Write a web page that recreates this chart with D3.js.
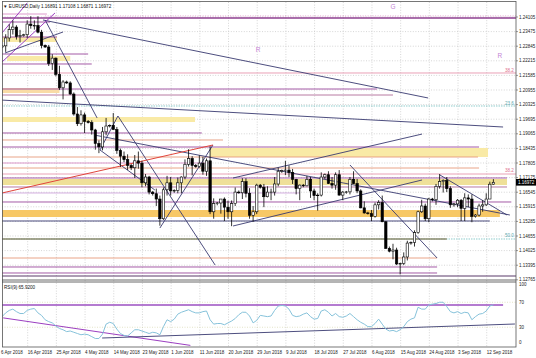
<!DOCTYPE html>
<html>
<head>
<meta charset="utf-8">
<script src="https://cdn.jsdelivr.net/npm/d3@7/dist/d3.min.js"></script>
<style>
  body { margin: 0; background: #fff; }
  svg { display: block; font-family: "Liberation Sans", Arial, sans-serif; }
</style>
</head>
<body>
<svg width="536" height="358"></svg>
<script>
var svg = d3.select('svg');

// daily bars (broker has short sunday bars)
var dates = [
  "2018-04-06","2018-04-08","2018-04-09","2018-04-10","2018-04-11","2018-04-12","2018-04-13",
  "2018-04-15","2018-04-16","2018-04-17","2018-04-18","2018-04-19","2018-04-20",
  "2018-04-22","2018-04-23","2018-04-24","2018-04-25","2018-04-26","2018-04-27",
  "2018-04-29","2018-04-30","2018-05-01","2018-05-02","2018-05-03","2018-05-04",
  "2018-05-06","2018-05-07","2018-05-08","2018-05-09","2018-05-10","2018-05-11",
  "2018-05-13","2018-05-14","2018-05-15","2018-05-16","2018-05-17","2018-05-18",
  "2018-05-20","2018-05-21","2018-05-22","2018-05-23","2018-05-24","2018-05-25",
  "2018-05-27","2018-05-28","2018-05-29","2018-05-30","2018-05-31","2018-06-01",
  "2018-06-03","2018-06-04","2018-06-05","2018-06-06","2018-06-07","2018-06-08",
  "2018-06-10","2018-06-11","2018-06-12","2018-06-13","2018-06-14","2018-06-15",
  "2018-06-17","2018-06-18","2018-06-19","2018-06-20","2018-06-21","2018-06-22",
  "2018-06-24","2018-06-25","2018-06-26","2018-06-27","2018-06-28","2018-06-29",
  "2018-07-01","2018-07-02","2018-07-03","2018-07-04","2018-07-05","2018-07-06",
  "2018-07-08","2018-07-09","2018-07-10","2018-07-11","2018-07-12","2018-07-13",
  "2018-07-15","2018-07-16","2018-07-17","2018-07-18","2018-07-19","2018-07-20",
  "2018-07-22","2018-07-23","2018-07-24","2018-07-25","2018-07-26","2018-07-27",
  "2018-07-29","2018-07-30","2018-07-31","2018-08-01","2018-08-02","2018-08-03",
  "2018-08-05","2018-08-06","2018-08-07","2018-08-08","2018-08-09","2018-08-10",
  "2018-08-12","2018-08-13","2018-08-14","2018-08-15","2018-08-16","2018-08-17",
  "2018-08-19","2018-08-20","2018-08-21","2018-08-22","2018-08-23","2018-08-24",
  "2018-08-26","2018-08-27","2018-08-28","2018-08-29","2018-08-30","2018-08-31",
  "2018-09-02","2018-09-03","2018-09-04","2018-09-05","2018-09-06","2018-09-07",
  "2018-09-09","2018-09-10","2018-09-11","2018-09-12","2018-09-13","2018-09-14"
];

// open, high, low, close
var ohlc = [
  [1.2240,1.2292,1.2215,1.2281],[1.2281,1.2290,1.2276,1.2286],[1.2286,1.2336,1.2260,1.2320],
  [1.2320,1.2379,1.2305,1.2356],[1.2356,1.2396,1.2335,1.2367],[1.2367,1.2375,1.2313,1.2326],
  [1.2326,1.2355,1.2300,1.2330],[1.2330,1.2338,1.2326,1.2334],[1.2334,1.2396,1.2320,1.2380],
  [1.2380,1.2414,1.2360,1.2373],[1.2373,1.2396,1.2356,1.2374],[1.2374,1.2414,1.2340,1.2345],
  [1.2345,1.2355,1.2275,1.2288],[1.2288,1.2292,1.2277,1.2281],[1.2281,1.2290,1.2199,1.2210],
  [1.2210,1.2250,1.2182,1.2233],[1.2233,1.2236,1.2154,1.2163],[1.2163,1.2200,1.2096,1.2105],
  [1.2105,1.2138,1.2055,1.2130],[1.2130,1.2136,1.2122,1.2126],[1.2126,1.2133,1.2075,1.2078],
  [1.2078,1.2085,1.1985,1.1992],[1.1992,1.2022,1.1940,1.1950],[1.1950,1.2008,1.1942,1.1988],
  [1.1988,1.1998,1.1910,1.1960],[1.1960,1.1966,1.1951,1.1955],[1.1955,1.1965,1.1903,1.1923],
  [1.1923,1.1928,1.1838,1.1865],[1.1865,1.1878,1.1823,1.1850],[1.1850,1.1936,1.1835,1.1915],
  [1.1915,1.1975,1.1900,1.1940],[1.1940,1.1947,1.1934,1.1943],[1.1943,1.1996,1.1925,1.1925],
  [1.1925,1.1936,1.1820,1.1835],[1.1835,1.1843,1.1763,1.1810],[1.1810,1.1830,1.1784,1.1795],
  [1.1795,1.1818,1.1750,1.1770],[1.1770,1.1776,1.1750,1.1760],[1.1760,1.1815,1.1716,1.1790],
  [1.1790,1.1830,1.1756,1.1780],[1.1780,1.1790,1.1676,1.1695],[1.1695,1.1733,1.1680,1.1720],
  [1.1720,1.1725,1.1645,1.1655],[1.1655,1.1660,1.1640,1.1648],[1.1648,1.1670,1.1595,1.1625],
  [1.1625,1.1640,1.1510,1.1540],[1.1540,1.1675,1.1535,1.1665],[1.1665,1.1725,1.1640,1.1695],
  [1.1695,1.1720,1.1640,1.1660],[1.1660,1.1667,1.1652,1.1662],[1.1662,1.1718,1.1650,1.1695],
  [1.1695,1.1723,1.1650,1.1720],[1.1720,1.1796,1.1710,1.1775],[1.1775,1.1840,1.1765,1.1800],
  [1.1800,1.1810,1.1727,1.1770],[1.1770,1.1776,1.1760,1.1765],[1.1765,1.1814,1.1760,1.1780],
  [1.1780,1.1807,1.1730,1.1745],[1.1745,1.1800,1.1725,1.1790],[1.1790,1.1852,1.1560,1.1570],
  [1.1570,1.1628,1.1540,1.1605],[1.1605,1.1612,1.1598,1.1608],[1.1608,1.1625,1.1562,1.1625],
  [1.1625,1.1632,1.1530,1.1590],[1.1590,1.1618,1.1540,1.1570],[1.1570,1.1619,1.1508,1.1605],
  [1.1605,1.1675,1.1595,1.1655],[1.1655,1.1662,1.1648,1.1652],[1.1652,1.1715,1.1625,1.1700],
  [1.1700,1.1715,1.1632,1.1650],[1.1650,1.1672,1.1540,1.1555],[1.1555,1.1595,1.1527,1.1570],
  [1.1570,1.1691,1.1560,1.1685],[1.1685,1.1690,1.1670,1.1676],[1.1676,1.1690,1.1590,1.1635],
  [1.1635,1.1680,1.1632,1.1655],[1.1655,1.1670,1.1620,1.1655],[1.1655,1.1720,1.1640,1.1690],
  [1.1690,1.1760,1.1680,1.1745],[1.1745,1.1752,1.1738,1.1748],[1.1748,1.1790,1.1728,1.1750],
  [1.1750,1.1770,1.1720,1.1740],[1.1740,1.1755,1.1690,1.1710],[1.1710,1.1712,1.1645,1.1670],
  [1.1670,1.1688,1.1620,1.1685],[1.1685,1.1690,1.1676,1.1682],[1.1682,1.1725,1.1680,1.1710],
  [1.1710,1.1720,1.1630,1.1660],[1.1660,1.1670,1.1620,1.1640],[1.1640,1.1650,1.1575,1.1642],
  [1.1642,1.1740,1.1636,1.1720],[1.1720,1.1735,1.1712,1.1730],[1.1730,1.1745,1.1690,1.1692],
  [1.1692,1.1720,1.1670,1.1685],[1.1685,1.1740,1.1665,1.1730],[1.1730,1.1750,1.1640,1.1642],
  [1.1642,1.1660,1.1620,1.1655],[1.1655,1.1660,1.1648,1.1656],[1.1656,1.1720,1.1645,1.1710],
  [1.1710,1.1745,1.1690,1.1692],[1.1692,1.1712,1.1650,1.1660],[1.1660,1.1667,1.1585,1.1587],
  [1.1587,1.1615,1.1562,1.1565],[1.1565,1.1570,1.1558,1.1562],[1.1562,1.1578,1.1530,1.1550],
  [1.1550,1.1610,1.1545,1.1600],[1.1600,1.1620,1.1580,1.1610],[1.1610,1.1640,1.1525,1.1527],
  [1.1527,1.1530,1.1410,1.1412],[1.1412,1.1420,1.1395,1.1400],[1.1400,1.1432,1.1365,1.1405],
  [1.1405,1.1415,1.1340,1.1345],[1.1345,1.1350,1.1300,1.1347],[1.1347,1.1395,1.1340,1.1375],
  [1.1375,1.1445,1.1360,1.1435],[1.1435,1.1442,1.1428,1.1438],[1.1438,1.1490,1.1420,1.1480],
  [1.1480,1.1575,1.1475,1.1570],[1.1570,1.1622,1.1565,1.1595],[1.1595,1.1605,1.1530,1.1540],
  [1.1540,1.1630,1.1525,1.1625],[1.1625,1.1630,1.1615,1.1622],[1.1622,1.1690,1.1600,1.1680],
  [1.1680,1.1733,1.1670,1.1700],[1.1700,1.1710,1.1653,1.1705],[1.1705,1.1720,1.1655,1.1670],
  [1.1670,1.1680,1.1587,1.1600],[1.1600,1.1608,1.1592,1.1604],[1.1604,1.1625,1.1590,1.1620],
  [1.1620,1.1625,1.1530,1.1585],[1.1585,1.1650,1.1530,1.1630],[1.1630,1.1645,1.1590,1.1625],
  [1.1625,1.1645,1.1525,1.1550],[1.1550,1.1560,1.1545,1.1556],[1.1556,1.1605,1.1550,1.1595],
  [1.1595,1.1620,1.1570,1.1600],[1.1600,1.1650,1.1595,1.1625],[1.1625,1.1700,1.1625,1.1689],
  [1.16891,1.17108,1.16871,1.16972]
];

// RSI(9)
var rsiValues = [
  45,47,53,57,59,55,52,52,57,59,60,53,49,42,39,37,32,28,26,23,
  24,22,20,18,19,18,15,12,12,19,35,38,36,27,20,17,16,21,26,26,
  24,22,20,22,21,18,31,42,39,43,51,54,56,58,55,53,53,55,56,42,
  35,36,36,34,37,40,44,50,54,54,48,37,41,49,48,47,48,57,64,65,
  64,59,49,47,48,51,53,47,43,44,56,58,54,48,52,47,46,48,52,47,
  42,38,35,31,31,36,43,35,27,24,25,23,26,31,39,43,45,62,59,59,
  66,67,68,70,70,63,55,53,55,52,54,53,42,47,51,52,56,64,65.92
];

var priceTicks = [1.24105,1.23475,1.22845,1.22215,1.21585,1.20955,1.20325,1.19695,1.19065,
  1.18435,1.17805,1.17175,1.16545,1.15915,1.15285,1.14655,1.14025,1.13395,1.12765];
var dateTicks = ["2018-04-06","2018-04-16","2018-04-25","2018-05-04","2018-05-14","2018-05-23",
  "2018-06-01","2018-06-11","2018-06-20","2018-06-29","2018-07-09","2018-07-18","2018-07-27",
  "2018-08-06","2018-08-15","2018-08-24","2018-09-03","2018-09-12"];
var rsiTicks = [100, 70, 30, 0];
var rsiLevels = [70, 30];

var END = 144.4; // right edge of the window, in bars

// horizontal objects: price, from bar, to bar, kind
var levels = [
  [1.24234, 1, 13.5, 'pink'], [1.24062, 0, END, 'purplewide'], [1.24150, 13, END, 'pinkdot'],
  [1.23889, 1, 14.4, 'purple'], [1.23242, 1, 16.3, 'purple'], [1.22508, 0, 25, 'purple'],
  [1.22077, 0, 26, 'purple'], [1.21689, 0, END, 'fib'], [1.20998, 0, 105.5, 'purple'],
  [1.20739, 0, 110, 'mauve'], [1.20265, 0, END, 'teal'], [1.19100, 0, 56.7, 'purple'],
  [1.18798, 0, 62.6, 'salmon'], [1.18495, 0, 134, 'purple'], [1.18064, 0, 133.7, 'salmon'],
  [1.17805, 0, 59, 'pink'], [1.17589, 0, 134, 'salmon'], [1.17330, 0, END, 'fib'],
  [1.17158, 0, 141.8, 'purple'], [1.16770, 0, 141.8, 'mauve'], [1.16511, 0, 84, 'lavender'],
  [1.16123, 0, 143, 'purple'], [1.15303, 0, 137, 'navy'], [1.14526, 0, END, 'teal'],
  [1.14526, 0, 125, 'olive'], [1.13706, 0, 122.3, 'salmon'], [1.13318, 0, 122.3, 'purple'],
  [1.13059, 0, 122.3, 'purple'], [1.12930, 0, END, 'dark']
];

// rectangles: top price, bottom price, from bar, to bar, kind
var zones = [
  [1.23242, 1.23026, 1, 16.3, 'pale'], [1.22422, 1.22206, 2.4, 20, 'pale'],
  [1.21041, 1.20826, 0, 17, 'peach'], [1.19790, 1.19574, 0, 54.8, 'pale'],
  [1.18452, 1.18064, 59, 136.5, 'pale'], [1.17115, 1.16856, 0, 141.8, 'khaki'],
  [1.15777, 1.15475, 0, 139.8, 'orange']
];

// trend lines: bar, price, bar, price, kind
var trends = [
  [12.4, 1.23976, 119.8, 1.20610, 'navy'], [0.4, 1.20524, 140.7, 1.19358, 'navy'],
  [26.9, 1.19006, 142.6, 1.15561, 'navy'], [13, 1.23976, 27.5, 1.19747, 'navy'],
  [28.3, 1.18366, 33.3, 1.19833, 'navy'], [28.3, 1.18366, 43.6, 1.16640, 'navy'],
  [33.3, 1.19833, 60.4, 1.13404, 'navy'], [45, 1.14999, 59.8, 1.18582, 'navy'],
  [1, 1.16511, 59.8, 1.18582, 'red'], [65.4, 1.17158, 118.1, 1.19054, 'navy'],
  [65.4, 1.15087, 118.1, 1.17072, 'navy'], [123.1, 1.17287, 141.8, 1.15561, 'navy'],
  [98, 1.17719, 122.3, 1.13706, 'navy'], [0.98, 1.23415, 8, 1.24709, 'violet'],
  [0.98, 1.22163, 15.75, 1.24278, 'violet'], [1.81, 1.22552, 18, 1.23458, 'navy']
];

// lines in the RSI window: bar, value, bar, value, kind
var rsiTrends = [
  [1.3, 45, 53.5, 1, 'violet'], [28.9, 12.8, 144, 35.2, 'navy'], [0, 65.6, 140.7, 65.6, 'violetwide']
];

// labels on objects: bar, price, text, kind
var marks = [
  [110, 1.24407, 'G', 'letter'], [72.4, 1.22552, 'R', 'letter'], [139.8, 1.22293, 'R', 'letter'],
  [141.2, 1.21720, '38.2', 'fibtxt'], [141.2, 1.20300, '23.6', 'tealtxt'],
  [141.2, 1.17380, '38.2', 'fibtxt'], [141.2, 1.14580, '50.0', 'tealtxt']
];

var styles = {
  purple: { stroke: '#a45ba6', w: 1 }, purplewide: { stroke: '#8e3f90', w: 1.6 },
  pink: { stroke: '#d98cc6', w: 0.9 },
  pinkdot: { stroke: '#d87ab8', w: 0.7, dash: '1,1.5' }, mauve: { stroke: '#b87aa2', w: 1 },
  lavender: { stroke: '#cfa6dc', w: 0.9 }, salmon: { stroke: '#e69a7c', w: 0.9 },
  fib: { stroke: '#e896ae', w: 0.9 }, teal: { stroke: '#74bfbf', w: 0.8, dash: '1.5,1' },
  olive: { stroke: '#8c8a6c', w: 1.6 }, navy: { stroke: '#393a70', w: 0.9 },
  dark: { stroke: '#5a3a6a', w: 1.1 }, red: { stroke: '#e0453c', w: 1 },
  violet: { stroke: '#9b3fc0', w: 1 }, violetwide: { stroke: '#9b4fc0', w: 1.6 }
};
var zoneFill = { pale: '#f9eaa6', peach: '#f9dba6', khaki: '#efe098', orange: '#f7c865' };

var plotLeft = 2, plotRight = 516, plotTop = 2, mainBottom = 279, rsiTop = 282.5, rsiBottom = 347;

var x = d3.scaleLinear().domain([0, dates.length - 1]).range([-1.5, 493.4]);
var y = d3.scaleLinear().domain([1.128, 1.24752]).range([mainBottom, plotTop]);
var yr = d3.scaleLinear().domain([0, 100]).range([346, 283.5]);
var parse = d3.timeParse('%Y-%m-%d');
var fmtDate = d3.timeFormat('%-d %b %Y');

var defs = svg.append('defs');
defs.append('clipPath').attr('id', 'clipMain')
  .append('rect').attr('x', plotLeft).attr('y', plotTop)
  .attr('width', plotRight - plotLeft).attr('height', mainBottom - plotTop);
defs.append('clipPath').attr('id', 'clipRsi')
  .append('rect').attr('x', plotLeft).attr('y', rsiTop)
  .attr('width', plotRight - plotLeft).attr('height', rsiBottom - rsiTop);

// grid
var grid = svg.append('g').attr('stroke', '#c4c4c4').attr('stroke-width', 0.7).attr('stroke-dasharray', '1,1.6');
grid.selectAll('.vg').data(dateTicks).enter().append('line')
  .attr('x1', function(d) { return x(dates.indexOf(d)) + 0.5; })
  .attr('x2', function(d) { return x(dates.indexOf(d)) + 0.5; })
  .attr('y1', plotTop).attr('y2', rsiBottom)
  .attr('display', function(d) { return x(dates.indexOf(d)) < plotLeft ? 'none' : null; });
grid.selectAll('.hg').data(priceTicks.slice(0, -1)).enter().append('line')
  .attr('x1', plotLeft).attr('x2', plotRight)
  .attr('y1', function(d) { return y(d); }).attr('y2', function(d) { return y(d); });

var main = svg.append('g').attr('clip-path', 'url(#clipMain)');

// zones
main.selectAll('.zone').data(zones).enter().append('rect')
  .attr('x', function(d) { return x(d[2]); })
  .attr('width', function(d) { return x(d[3]) - x(d[2]); })
  .attr('y', function(d) { return y(d[0]); })
  .attr('height', function(d) { return y(d[1]) - y(d[0]); })
  .attr('fill', function(d) { return zoneFill[d[4]]; });

// horizontal lines
main.selectAll('.lvl').data(levels).enter().append('line')
  .attr('x1', function(d) { return x(d[1]); })
  .attr('x2', function(d) { return x(d[2]); })
  .attr('y1', function(d) { return y(d[0]); })
  .attr('y2', function(d) { return y(d[0]); })
  .attr('stroke', function(d) { return styles[d[3]].stroke; })
  .attr('stroke-width', function(d) { return styles[d[3]].w; })
  .attr('stroke-dasharray', function(d) { return styles[d[3]].dash || null; });

// trend lines
main.selectAll('.tl').data(trends).enter().append('line')
  .attr('x1', function(d) { return x(d[0]); })
  .attr('y1', function(d) { return y(d[1]); })
  .attr('x2', function(d) { return x(d[2]); })
  .attr('y2', function(d) { return y(d[3]); })
  .attr('stroke', function(d) { return styles[d[4]].stroke; })
  .attr('stroke-width', function(d) { return styles[d[4]].w; });

// candles
var bodyW = 2.4;
var candles = main.selectAll('.candle').data(ohlc).enter().append('g');
candles.append('line')
  .attr('x1', function(d, i) { return x(i); })
  .attr('x2', function(d, i) { return x(i); })
  .attr('y1', function(d) { return y(d[1]); })
  .attr('y2', function(d) { return y(d[2]); })
  .attr('stroke', '#000').attr('stroke-width', 0.8);
candles.append('rect')
  .attr('x', function(d, i) { return x(i) - bodyW / 2; })
  .attr('width', bodyW)
  .attr('y', function(d) { return y(Math.max(d[0], d[3])); })
  .attr('height', function(d) { return Math.max(0.6, Math.abs(y(d[0]) - y(d[3]))); })
  .attr('fill', function(d) { return d[3] >= d[0] ? '#fff' : '#000'; })
  .attr('stroke', '#000').attr('stroke-width', 0.6);

// letters and fib texts
var markStyle = {
  letter: { fill: '#c485d6', size: 6.5 }, fibtxt: { fill: '#e0708e', size: 4.6 },
  tealtxt: { fill: '#5aa8b0', size: 4.6 }
};
main.selectAll('.mark').data(marks).enter().append('text')
  .attr('x', function(d) { return x(d[0]); })
  .attr('y', function(d) { return y(d[1]) - 0.5; })
  .attr('fill', function(d) { return markStyle[d[3]].fill; })
  .attr('font-size', function(d) { return markStyle[d[3]].size + 'px'; })
  .attr('text-anchor', function(d) { return d[3] == 'letter' ? 'middle' : 'start'; })
  .text(function(d) { return d[2]; });

// RSI window
var rsiG = svg.append('g').attr('clip-path', 'url(#clipRsi)');
rsiG.selectAll('.lv').data(rsiLevels).enter().append('line')
  .attr('x1', plotLeft).attr('x2', plotRight)
  .attr('y1', function(d) { return yr(d); }).attr('y2', function(d) { return yr(d); })
  .attr('stroke', '#d8d8b0').attr('stroke-width', 0.7).attr('stroke-dasharray', '1,1.5');
rsiG.selectAll('.rt').data(rsiTrends).enter().append('line')
  .attr('x1', function(d) { return x(d[0]); })
  .attr('y1', function(d) { return yr(d[1]); })
  .attr('x2', function(d) { return x(d[2]); })
  .attr('y2', function(d) { return yr(d[3]); })
  .attr('stroke', function(d) { return styles[d[4]].stroke; })
  .attr('stroke-width', function(d) { return styles[d[4]].w; });
rsiG.append('path')
  .datum(rsiValues)
  .attr('fill', 'none').attr('stroke', '#86c2da').attr('stroke-width', 1)
  .attr('d', d3.line().x(function(d, i) { return x(i); }).y(function(d) { return yr(d); }));

// frames
var frame = svg.append('g').attr('fill', 'none');
frame.append('rect').attr('x', plotLeft + 0.5).attr('y', plotTop - 0.5).attr('width', plotRight - plotLeft - 0.5)
  .attr('height', rsiBottom - plotTop + 0.5).attr('stroke', '#555').attr('stroke-width', 0.8);
frame.append('line').attr('x1', plotLeft).attr('x2', plotRight).attr('y1', 280).attr('y2', 280)
  .attr('stroke', '#444').attr('stroke-width', 0.8);
frame.append('line').attr('x1', plotLeft).attr('x2', plotRight).attr('y1', 282).attr('y2', 282)
  .attr('stroke', '#444').attr('stroke-width', 0.8);

// price axis
var axisG = svg.append('g').attr('font-size', '4.5px').attr('fill', '#222');
axisG.selectAll('.pt').data(priceTicks).enter().append('text')
  .attr('x', 519).attr('y', function(d) { return y(d) + 1.6; })
  .text(function(d) { return d.toFixed(5); });
axisG.selectAll('.ptk').data(priceTicks).enter().append('line')
  .attr('x1', plotRight).attr('x2', plotRight + 2)
  .attr('y1', function(d) { return y(d); }).attr('y2', function(d) { return y(d); })
  .attr('stroke', '#555').attr('stroke-width', 0.6);
axisG.selectAll('.rtk').data(rsiTicks).enter().append('text')
  .attr('x', 519)
  .attr('y', function(d) { return Math.max(286, Math.min(343.5, yr(d) + 1.6)); })
  .text(function(d) { return d; });

// bid box
var last = ohlc[ohlc.length - 1][3];
svg.append('rect').attr('x', plotRight).attr('y', y(last) - 3.3).attr('width', 20).attr('height', 6.6).attr('fill', '#000');
svg.append('text').attr('x', 518).attr('y', y(last) + 1.6).attr('font-size', '4.5px')
  .attr('fill', '#fff').text(last.toFixed(5));

// time axis
axisG.selectAll('.dt').data(dateTicks).enter().append('text')
  .attr('x', function(d) { return Math.max(1, x(dates.indexOf(d)) + 0.5); })
  .attr('y', 353.5)
  .text(function(d) { return fmtDate(parse(d)); });

// window titles
var o = ohlc[ohlc.length - 1];
svg.append('text').attr('x', 3).attr('y', 7.6).attr('font-size', '4.6px').attr('fill', '#111')
  .text('\u25BC EURUSD,Daily  ' + o.map(function(v) { return v.toFixed(5); }).join(' '));
svg.append('text').attr('x', 4).attr('y', 288.5).attr('font-size', '4.6px').attr('fill', '#111')
  .text('RSI(9) ' + rsiValues[rsiValues.length - 1].toFixed(4));
</script>
</body>
</html>
